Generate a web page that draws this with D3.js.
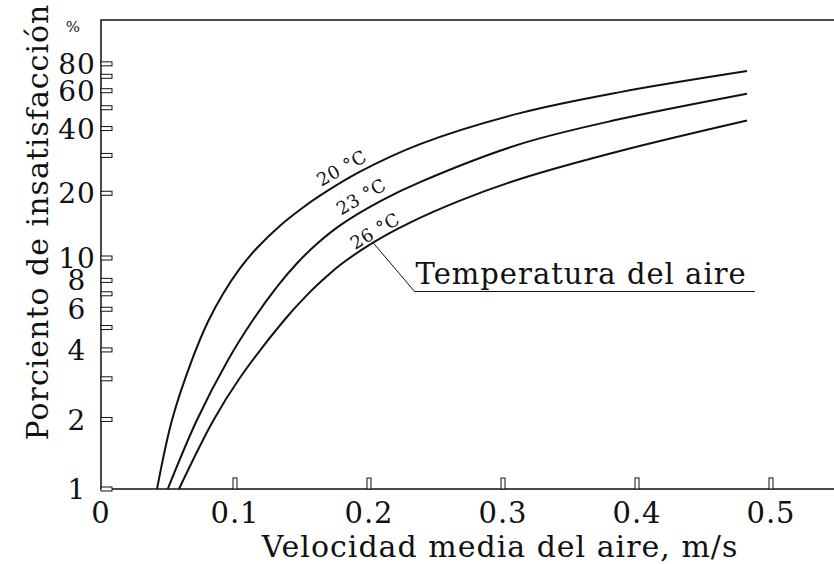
<!DOCTYPE html>
<html>
<head>
<meta charset="utf-8">
<script src="https://cdn.jsdelivr.net/npm/d3@7"></script>
<style>
  html, body { margin: 0; padding: 0; background: #fff; }
  text { font-family: "DejaVu Serif", serif; fill: #111; }
</style>
</head>
<body>
<div id="chart"></div>
<script>
// curves: air speed (m/s) vs percent dissatisfied
var temps = ['20 °C', '23 °C', '26 °C'];

var speed20 = [0.0418, 0.0530, 0.0679, 0.0799, 0.0910, 0.1037, 0.1164, 0.1336, 0.1485, 0.1634, 0.1933, 0.2381, 0.3127, 0.3873, 0.4821];
var pct20   = [1.00,   1.99,   3.62,   5.31,   6.99,   9.02,   11.13,  14.13,  16.77,  19.49,  25.20,  33.86,  47.20,  59.10,  74.03];

var speed23 = [0.0498, 0.0716, 0.0948, 0.1134, 0.1313, 0.1463, 0.1612, 0.1784, 0.2082, 0.2381, 0.3127, 0.3873, 0.4821];
var pct23   = [1.00,   1.99,   3.62,   5.39,   7.50,   9.49,   11.65,  14.19,  18.35,  22.54,  33.86,  44.27,  58.10];

var speed26 = [0.0582, 0.0836, 0.1037, 0.1373, 0.1537, 0.1687, 0.1784, 0.2030, 0.2306, 0.2679, 0.3127, 0.3873, 0.4821];
var pct26   = [1.00,   1.97,   3.03,   5.43,   6.91,   8.35,   9.32,   11.79,  14.61,  18.49,  23.31,  31.46,  43.61];

var xTicks = [0, 0.1, 0.2, 0.3, 0.4, 0.5];
var yTicks = [1, 2, 3, 4, 5, 6, 7, 8, 10, 20, 30, 40, 50, 60, 70, 80];
var yLabels = [1, 2, 4, 6, 8, 10, 20, 40, 60, 80];

// where the curve labels start (speed along each curve) and their gap above it
var labelAt = [0.167, 0.182, 0.191];
var labelGap = [7, 8, 4];

var width = 834, height = 564;
// note: "top" is a reserved window prop, so use plotTop
var plotLeft = 101, plotTop = 20, plotBottom = 489, plotRight = 834;

var svg = d3.select('#chart').append('svg')
	.attr('width', width)
	.attr('height', height);

var x = d3.scaleLinear().domain([0, 0.5]).range([plotLeft, plotLeft + 670]);
// the printed scale is log, but the upper decade is drawn a bit shorter
var y = d3.scaleLog().domain([1, 10, 100]).range([plotBottom, 258, 43]);

var series = [
	{ name: temps[0], pts: d3.zip(speed20, pct20) },
	{ name: temps[1], pts: d3.zip(speed23, pct23) },
	{ name: temps[2], pts: d3.zip(speed26, pct26) }
];

// frame: top, left and bottom lines
svg.append('path')
	.attr('d', 'M' + plotRight + ',' + plotTop + 'H' + plotLeft + 'V' + plotBottom + 'H' + plotRight)
	.attr('fill', 'none')
	.attr('stroke', '#111')
	.attr('stroke-width', 1.5);

// y ticks: small open boxes
svg.selectAll('rect.ytick').data(yTicks).enter()
	.append('rect')
	.attr('class', 'ytick')
	.attr('x', plotLeft)
	.attr('y', function (d) { return y(d) - 2; })
	.attr('width', 11)
	.attr('height', 4)
	.attr('fill', '#fff')
	.attr('stroke', '#111')
	.attr('stroke-width', 1);

svg.selectAll('text.ylab').data(yLabels).enter()
	.append('text')
	.attr('class', 'ylab')
	.attr('x', 77)
	.attr('y', function (d) { return y(d); })
	.attr('dy', '0.36em')
	.attr('text-anchor', 'middle')
	.style('font-size', '28px')
	.style('letter-spacing', '1px')
	.text(function (d) { return d; });

svg.append('text')
	.attr('x', 73)
	.attr('y', 32)
	.attr('text-anchor', 'middle')
	.style('font-size', '15px')
	.text('%');

// x ticks: thin upright boxes on the axis
svg.selectAll('rect.xtick').data(xTicks.slice(1)).enter()
	.append('rect')
	.attr('class', 'xtick')
	.attr('x', function (d) { return x(d) - 2; })
	.attr('y', plotBottom - 11)
	.attr('width', 4)
	.attr('height', 11)
	.attr('fill', '#fff')
	.attr('stroke', '#111')
	.attr('stroke-width', 1);

svg.selectAll('text.xlab').data(xTicks).enter()
	.append('text')
	.attr('class', 'xlab')
	.attr('x', function (d) { return x(d); })
	.attr('y', 523)
	.attr('text-anchor', 'middle')
	.style('font-size', '29px')
	.style('letter-spacing', '1px')
	.text(function (d) { return d; });

// axis titles
svg.append('text')
	.attr('x', 500)
	.attr('y', 557)
	.attr('text-anchor', 'middle')
	.style('font-size', '30px')
	.style('letter-spacing', '1px')
	.text('Velocidad media del aire, m/s');

svg.append('text')
	.attr('transform', 'translate(48,222) rotate(-90)')
	.attr('text-anchor', 'middle')
	.style('font-size', '30px')
	.style('letter-spacing', '1px')
	.text('Porciento de insatisfacción');

// the curves
var line = d3.line()
	.x(function (d) { return x(d[0]); })
	.y(function (d) { return y(d[1]); })
	.curve(d3.curveCatmullRom.alpha(0.5));

svg.selectAll('path.curve').data(series).enter()
	.append('path')
	.attr('class', 'curve')
	.attr('d', function (d) { return line(d.pts); })
	.attr('fill', 'none')
	.attr('stroke', '#111')
	.attr('stroke-width', 2);

// pixel position on a curve at a given speed (linear between read points)
function onCurve(pts, v) {
	var px = pts.map(function (p) { return [x(p[0]), y(p[1])]; });
	var xv = x(v), i = 1;
	while (i < px.length - 1 && px[i][0] < xv) i++;
	var a = px[i - 1], b = px[i];
	var t = (xv - a[0]) / (b[0] - a[0]);
	return { x: xv, y: a[1] + t * (b[1] - a[1]) };
}

// label runs along the chord of the curve under it
series.forEach(function (s, i) {
	var p = onCurve(s.pts, labelAt[i]);
	var q = onCurve(s.pts, labelAt[i] + 0.035);
	var ang = Math.atan2(q.y - p.y, q.x - p.x);
	var off = labelGap[i];
	svg.append('text')
		.attr('transform', 'translate(' + (p.x + off * Math.sin(ang)) + ',' + (p.y - off * Math.cos(ang)) + ') rotate(' + (ang * 180 / Math.PI) + ')')
		.style('font-size', '18px')
		.style('letter-spacing', '0.5px')
		.text(s.name);
});

// leader from the 26 °C curve to the note
var anchor = onCurve(series[2].pts, 0.203);
var elbowX = x(0.234), elbowY = 291.5, endX = x(0.488);

svg.append('path')
	.attr('d', 'M' + anchor.x + ',' + anchor.y + 'L' + elbowX + ',' + elbowY + 'H' + endX)
	.attr('fill', 'none')
	.attr('stroke', '#111')
	.attr('stroke-width', 1);

svg.append('text')
	.attr('x', elbowX + 1)
	.attr('y', elbowY - 8)
	.style('font-size', '29px')
	.style('letter-spacing', '1px')
	.text('Temperatura del aire');
</script>
</body>
</html>
